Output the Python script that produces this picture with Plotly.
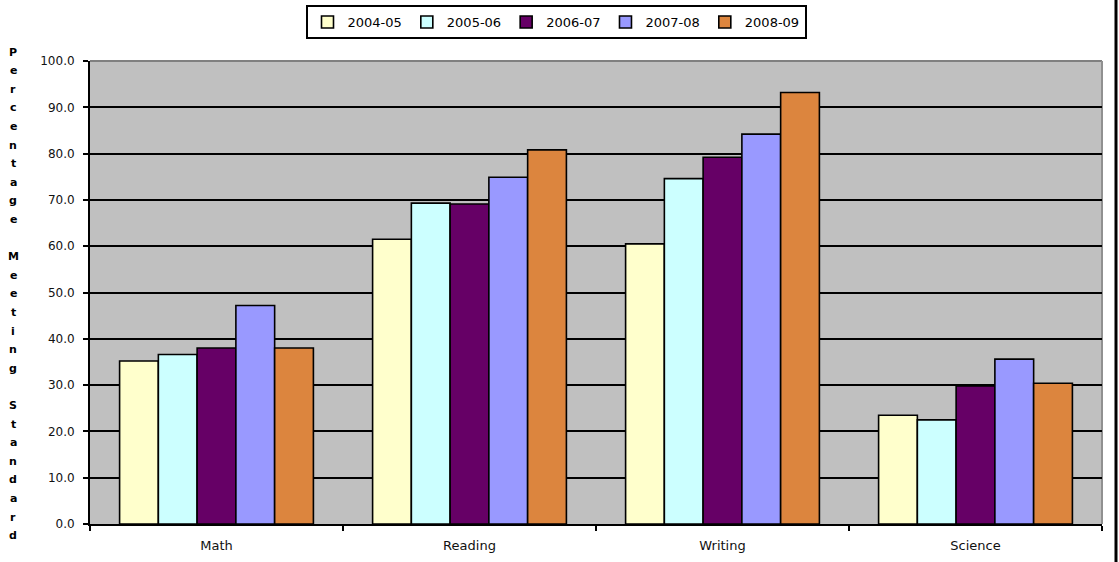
import plotly.graph_objects as go

categories = ["Math", "Reading", "Writing", "Science"]
series_names = ["2004-05", "2005-06", "2006-07", "2007-08", "2008-09"]
v_2004_05 = [35.2, 61.5, 60.5, 23.5]
v_2005_06 = [36.6, 69.3, 74.6, 22.5]
v_2006_07 = [38.0, 69.1, 79.2, 29.8]
v_2007_08 = [47.2, 74.9, 84.2, 35.6]
v_2008_09 = [38.0, 80.8, 93.2, 30.4]
y_ticks = [0, 10, 20, 30, 40, 50, 60, 70, 80, 90, 100]
y_title = "Percentage  Meeting  Standard"

values = [v_2004_05, v_2005_06, v_2006_07, v_2007_08, v_2008_09]
colors = ["#FFFFCC", "#CCFFFF", "#660066", "#9999FF", "#DC853E"]

W, H = 1119, 562
ml, mr, mt, mb = 90, 17, 61, 38
plot_w = W - ml - mr
plot_h = H - mt - mb

fig = go.Figure()
for name, vals, col in zip(series_names, values, colors):
    fig.add_trace(go.Bar(
        x=categories, y=vals, name=name,
        marker=dict(color=col, line=dict(color="black", width=1.6)),
    ))

# vertical stacked axis title, one character per line
annotations = []
chars = list(y_title.replace("  ", " "))
line_h = 18.6
for i, ch in enumerate(chars):
    if ch == " ":
        continue
    py = 52 + i * line_h
    annotations.append(dict(
        text="<b>%s</b>" % ch, x=(13 - ml) / plot_w, xref="paper", xanchor="center",
        y=(H - mb - py) / plot_h, yref="paper", yanchor="middle",
        showarrow=False, font=dict(family="DejaVu Sans", size=11, color="black"),
    ))

fig.update_layout(
    width=W, height=H,
    margin=dict(l=ml, r=mr, t=mt, b=mb, autoexpand=False),
    paper_bgcolor="white", plot_bgcolor="#C0C0C0",
    barmode="group", bargap=0.234, bargroupgap=0,
    font=dict(family="DejaVu Sans", size=12, color="#111"),
    legend=dict(
        orientation="h", x=(556 - ml) / plot_w, xanchor="center",
        y=(H - mb - 5) / plot_h, yanchor="top",
        bordercolor="black", borderwidth=2, bgcolor="white",
        font=dict(family="DejaVu Sans", size=13, color="black"),
        itemwidth=30, traceorder="normal",
    ),
    xaxis=dict(
        showline=True, linecolor="black", linewidth=2, mirror=False,
        ticks="outside", tickson="boundaries", ticklen=5, tickcolor="black", tickwidth=2,
        tickfont=dict(size=13), ticklabelstandoff=8,
        showgrid=False,
    ),
    yaxis=dict(
        range=[0, 100], tickvals=y_ticks, tickformat=".1f",
        showline=True, linecolor="black", linewidth=2,
        ticks="outside", ticklen=5, tickcolor="black", tickwidth=2,
        tickfont=dict(size=12), ticklabelstandoff=6,
        showgrid=True, gridcolor="black", gridwidth=1.5, zeroline=False,
    ),
    annotations=annotations,
    shapes=[
        dict(type="line", xref="paper", yref="paper", x0=0, x1=1, y0=1, y1=1,
             line=dict(color="#808080", width=2), layer="below"),
        dict(type="line", xref="paper", yref="paper", x0=1, x1=1, y0=0, y1=1,
             line=dict(color="#909090", width=2), layer="below"),
        dict(type="line", xref="paper", yref="paper",
             x0=(1116 - ml) / plot_w, x1=(1116 - ml) / plot_w,
             y0=(H - mb - 0) / plot_h, y1=(H - mb - 562) / plot_h,
             line=dict(color="black", width=3)),
    ],
)

fig.write_html(
    "out.html",
    config={"displayModeBar": False},
    post_script="document.body.style.margin='0';document.body.style.overflow='hidden';",
)
